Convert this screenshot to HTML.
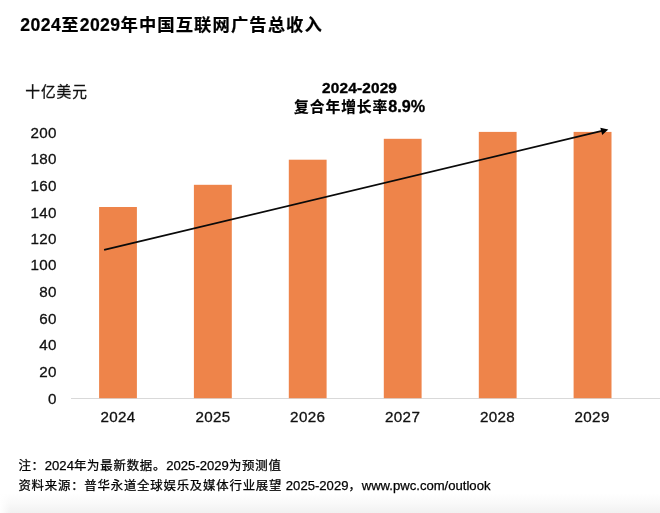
<!DOCTYPE html>
<html lang="zh-CN">
<head>
<meta charset="utf-8">
<title>2024至2029年中国互联网广告总收入</title>
<style>
html,body{margin:0;padding:0;background:#fff;}
body{width:660px;height:513px;position:relative;overflow:hidden;font-family:"Liberation Sans","Noto Sans CJK SC",sans-serif;color:#111;}
.t{position:absolute;white-space:nowrap;line-height:1;}
.title{left:20.3px;top:16.5px;font-size:17.3px;letter-spacing:1.1px;font-weight:bold;color:#000;-webkit-text-stroke:0.2px #000;}
.title span{font-size:17.6px;letter-spacing:0.45px;}
.unit{left:25.2px;top:84.5px;font-size:14.7px;letter-spacing:1px;-webkit-text-stroke:0.3px #111;}
.yl{width:40px;text-align:right;left:16.9px;font-size:15.2px;letter-spacing:0.35px;-webkit-text-stroke:0.3px #111;}
.xl{width:60px;text-align:center;font-size:15.2px;letter-spacing:0.35px;top:408.8px;-webkit-text-stroke:0.3px #111;}
.axis{position:absolute;left:70.5px;top:398px;width:590px;height:1px;background:#d9d9d9;}
.ann{width:200px;text-align:center;left:259.6px;font-size:15.7px;font-weight:bold;color:#000;-webkit-text-stroke:0.3px #000;}
.ann2{font-size:14.8px;letter-spacing:0.9px;-webkit-text-stroke:0.2px #000;}
.ann2 span{font-size:16.2px;letter-spacing:0;-webkit-text-stroke:0.3px #000;}
.fn{left:18.4px;font-size:12.4px;letter-spacing:0.8px;color:#000;-webkit-text-stroke:0.25px #000;}
.fn span{font-size:13.1px;letter-spacing:0;}
.shade{position:absolute;left:0;top:493px;width:660px;height:20px;background:linear-gradient(to right,#fff 0,rgba(255,255,255,0) 11px),linear-gradient(to bottom,#fff 0,#fafafa 45%,#f1f1f1 100%);}
svg{position:absolute;left:0;top:0;}
</style>
</head>
<body>
<div class="shade"></div>
<div class="t title"><span>2024</span>至<span>2029</span>年中国互联网广告总收入</div>
<div class="t unit">十亿美元</div>

<div class="t yl" style="top:125px">200</div>
<div class="t yl" style="top:151px">180</div>
<div class="t yl" style="top:178px">160</div>
<div class="t yl" style="top:205px">140</div>
<div class="t yl" style="top:231px">120</div>
<div class="t yl" style="top:257px">100</div>
<div class="t yl" style="top:284px">80</div>
<div class="t yl" style="top:311px">60</div>
<div class="t yl" style="top:337px">40</div>
<div class="t yl" style="top:364px">20</div>
<div class="t yl" style="top:391px">0</div>

<div class="axis"></div>

<div class="t xl" style="left:88px">2024</div>
<div class="t xl" style="left:183px">2025</div>
<div class="t xl" style="left:277.7px">2026</div>
<div class="t xl" style="left:372.6px">2027</div>
<div class="t xl" style="left:467.5px">2028</div>
<div class="t xl" style="left:562.1px">2029</div>

<svg width="660" height="513" viewBox="0 0 660 513">
  <rect x="99.1" y="207.0" width="37.8" height="191.2" fill="#ee844a"/>
  <rect x="193.9" y="184.8" width="37.9" height="213.4" fill="#ee844a"/>
  <rect x="288.8" y="159.7" width="37.8" height="238.5" fill="#ee844a"/>
  <rect x="383.8" y="138.8" width="37.8" height="259.4" fill="#ee844a"/>
  <rect x="478.8" y="131.9" width="37.8" height="266.3" fill="#ee844a"/>
  <rect x="573.6" y="131.9" width="37.9" height="266.3" fill="#ee844a"/>
  <line x1="104.1" y1="249.8" x2="603" y2="130.7" stroke="#0a0a0a" stroke-width="1.7"/>
  <polygon points="608.3,129.5 600.3,127.8 602.2,135" fill="#000"/>
</svg>

<div class="t ann" style="top:79.5px;font-size:15.4px;letter-spacing:0.15px;-webkit-text-stroke:0.35px #000">2024-2029</div>
<div class="t ann ann2" style="top:98px">复合年增长率<span>8.9%</span></div>

<div class="t fn" style="top:459px">注：<span>2024</span>年为最新数据。<span>2025-2029</span>为预测值</div>
<div class="t fn" style="top:479px">资料来源：普华永道全球娱乐及媒体行业展望<span> 2025-2029</span>，<span>www.pwc.com/outlook</span></div>
</body>
</html>
